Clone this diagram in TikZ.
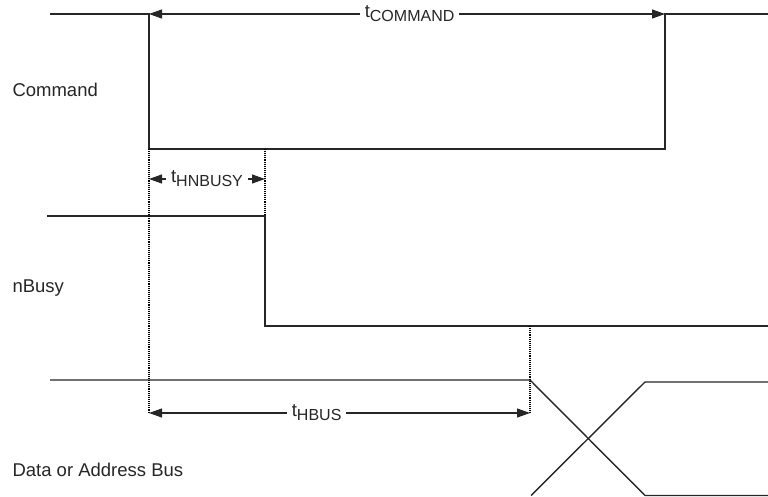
\documentclass[tikz,border=0pt]{standalone}
\usepackage{fontspec}
\setmainfont{Liberation Sans}
\usepackage{tikz}
\usetikzlibrary{arrows.meta}

\tikzset{
  signal/.style={line width=1.4pt, black!85},
  guide/.style={densely dotted, line width=1.1pt},
  span/.style={{Triangle[length=13pt,width=9pt]}-{Triangle[length=13pt,width=9pt]}, line width=1.1pt, black!85},
  tlabel/.style={fill=white, inner xsep=5pt, inner ysep=1pt, font=\fontsize{18.5}{20}\selectfont, text=black!85},
  signame/.style={anchor=west, font=\fontsize{18.5}{20}\selectfont, text=black!85}
}
\newcommand{\tsub}[1]{t\raisebox{-4pt}{\fontsize{16}{16}\selectfont #1}}

\begin{document}
\begin{tikzpicture}[x=1pt, y=-1pt]
            \useasboundingbox (0,0) rectangle (768,497);

            % signal names
            \node[signame] (cmd) at (9, 90) {Command};
            \node[signame] (busy) at (9, 288) {nBusy};
            \node[signame] (bus) at (9, 470) {Data or Address Bus};

            % Command
            \coordinate (c0) at (50, 14);
            \coordinate (c1) at (149, 14);
            \coordinate (c2) at (149, 149);
            \coordinate (c3) at (665, 149);
            \coordinate (c4) at (665, 14);
            \coordinate (c5) at (768, 14);
            \draw[signal] (c0) -- (c1) -- (c2) -- (c3) -- (c4) -- (c5);

            % nBusy
            \coordinate (b0) at (47, 216);
            \coordinate (b1) at (265, 216);
            \coordinate (b2) at (265, 326);
            \coordinate (b3) at (768, 326);
            \draw[signal] (b0) -- (b1) -- (b2) -- (b3);

            % Data or Address Bus
            \coordinate (d0) at (50, 380);
            \coordinate (d1) at (530, 380);
            \coordinate (d2) at (645, 495.5);
            \coordinate (d3) at (768, 495.5);
            \coordinate (e0) at (531, 495.5);
            \coordinate (e1) at (645, 382);
            \coordinate (e2) at (768, 382);
            \draw[signal] (d0) -- (d1) -- (d2) -- (d3);
            \draw[signal] (e0) -- (e1) -- (e2);

            % guides
            \coordinate (g0) at (149, 413);
            \coordinate (g1) at (265, 149);
            \coordinate (g2) at (530, 326);
            \coordinate (g3) at (530, 413);
            \coordinate (h0) at (149, 179);
            \coordinate (h1) at (265, 179);
            \draw[guide] (c2) -- (g0);
            \draw[guide] (g1) -- (b1);
            \draw[guide] (g2) -- (g3);

            % timings
            \draw[span] (c1) -- node[tlabel, pos=0.505] (tcmd) {\tsub{COMMAND}} (c4);
            \draw[span] (h0) -- node[tlabel, pos=0.5] (tbusy) {\tsub{HNBUSY}} (h1);
            \draw[span] (g0) -- node[tlabel, pos=0.44] (tbus) {\tsub{HBUS}} (g3);
        \end{tikzpicture}
\end{document}
